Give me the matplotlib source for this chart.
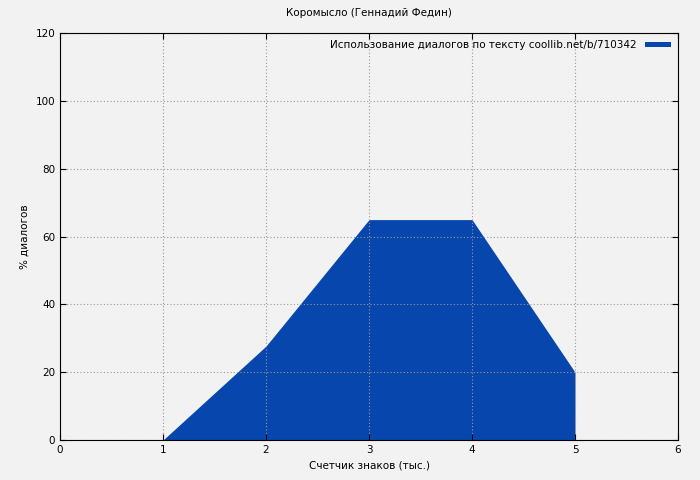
import matplotlib
matplotlib.use("Agg")
import matplotlib.pyplot as plt

x = [1, 2, 3, 4, 5]
pct = [0, 27.7, 65, 65, 20]
title = "Коромысло (Геннадий Федин)"
label = "Использование диалогов по тексту coollib.net/b/710342"

plt.rcParams['font.size'] = 7.5
fig = plt.figure(figsize=(7, 4.8), dpi=100, facecolor='#f2f2f2')
ax = fig.add_axes([0.0857, 0.0833, 0.8829, 0.8477], facecolor='#f2f2f2')
ax.fill_between(x, pct, 0, color='#0646ad', linewidth=0, label=label)
ax.set_xlim(0, 6)
ax.set_ylim(0, 120)
ax.set_xticks(range(0, 7))
ax.set_yticks(range(0, 121, 20))
ax.grid(True, color='#999999', linestyle=(0, (1, 2)), linewidth=0.8)
ax.tick_params(direction='in', length=4, top=True, right=True, labeltop=False, labelright=False)
ax.set_title(title, fontsize=7.5, pad=12)
ax.set_xlabel("Счетчик знаков (тыс.)")
ax.set_ylabel("% диалогов")
h, l = ax.get_legend_handles_labels()
leg = ax.legend(h, l, loc='upper right', frameon=False, markerfirst=False,
                handlelength=2.5, handleheight=0.4, borderaxespad=0.3)
fig.savefig("out.png", facecolor=fig.get_facecolor())
